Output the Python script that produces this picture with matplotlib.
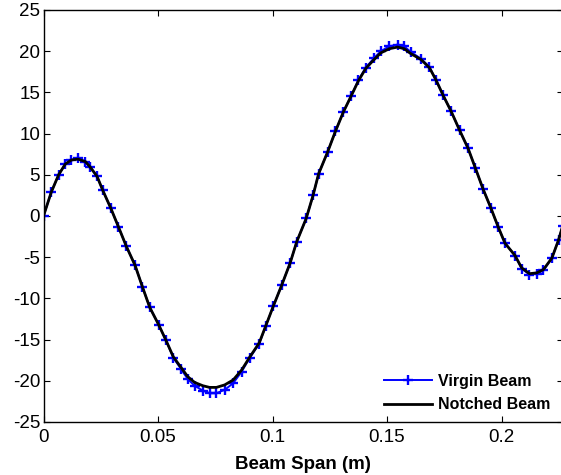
import matplotlib
matplotlib.use("Agg")
import matplotlib.pyplot as plt

plt.rcParams['font.family'] = ['Liberation Sans', 'DejaVu Sans']
plt.rcParams['axes.unicode_minus'] = False

span_x = [0.0000, 0.0034, 0.0066, 0.0095, 0.0122, 0.0151, 0.0183, 0.0205, 0.0234, 0.0259,
          0.0293, 0.0327, 0.0362, 0.0400, 0.0432, 0.0464, 0.0503, 0.0535, 0.0567, 0.0601,
          0.0630, 0.0660, 0.0696, 0.0725, 0.0755, 0.0791, 0.0828, 0.0865, 0.0901, 0.0942,
          0.0971, 0.1004, 0.1040, 0.1077, 0.1106, 0.1147, 0.1177, 0.1201, 0.1241, 0.1275,
          0.1309, 0.1344, 0.1375, 0.1407, 0.1444, 0.1473, 0.1510, 0.1546, 0.1575, 0.1604,
          0.1648, 0.1685, 0.1714, 0.1744, 0.1780, 0.1817, 0.1854, 0.1886, 0.1919, 0.1953,
          0.1985, 0.2015, 0.2059, 0.2088, 0.2122, 0.2154, 0.2183, 0.2220, 0.2249, 0.2267]

virgin_y = [0.0, 2.9, 5.0, 6.3, 6.8, 7.0, 6.6, 5.9, 4.8, 3.1,
            1.0, -1.3, -3.7, -6.0, -8.6, -11.1, -13.2, -15.1, -17.2, -18.6,
            -19.8, -20.6, -21.2, -21.5, -21.5, -21.1, -20.3, -18.9, -17.2, -15.5,
            -13.3, -10.9, -8.4, -5.7, -3.1, -0.3, 2.5, 5.1, 7.8, 10.3,
            12.6, 14.6, 16.5, 18.0, 19.2, 20.0, 20.6, 20.8, 20.6, 19.9,
            19.1, 18.1, 16.5, 14.7, 12.7, 10.4, 8.2, 5.8, 3.3, 1.0,
            -1.3, -3.3, -4.8, -6.4, -7.1, -7.0, -6.6, -5.1, -2.9, -1.2]

notched_y = [0.0, 2.9, 5.0, 6.3, 6.8, 6.9, 6.6, 5.9, 4.8, 3.1,
             1.0, -1.3, -3.7, -6.0, -8.6, -11.1, -13.2, -15.1, -17.1, -18.4,
             -19.5, -20.2, -20.6, -20.8, -20.8, -20.5, -19.9, -18.7, -17.1, -15.4,
             -13.3, -10.9, -8.4, -5.7, -3.1, -0.3, 2.5, 5.1, 7.8, 10.3,
             12.6, 14.6, 16.4, 17.9, 19.0, 19.8, 20.3, 20.5, 20.3, 19.7,
             19.0, 18.0, 16.5, 14.7, 12.7, 10.4, 8.2, 5.8, 3.3, 1.0,
             -1.3, -3.3, -4.8, -6.3, -7.0, -6.9, -6.5, -5.1, -2.9, -1.2]

x_ticks = [0, 0.05, 0.1, 0.15, 0.2]
x_tick_labels = ['0', '0.05', '0.1', '0.15', '0.2']
y_ticks = [-25, -20, -15, -10, -5, 0, 5, 10, 15, 20, 25]
y_tick_labels = ['-25', '-20', '-15', '-10', '-5', '0', '5', '10', '15', '20', '25']

fig = plt.figure(figsize=(5.61, 4.75), dpi=100)
ax = fig.add_axes([43.5 / 561, 53 / 475, (561 - 43.5) / 561 + 0.003, (422 - 10) / 475])

ax.plot(span_x, virgin_y, color='#0000ff', linewidth=1.4, marker='+',
        markersize=7.5, markeredgewidth=1.7, label='Virgin Beam', zorder=2)
ax.plot(span_x, notched_y, color='black', linewidth=2.0, label='Notched Beam', zorder=3)

ax.set_xlim(0, 0.2267)
ax.set_ylim(-25, 25)
ax.set_xticks(x_ticks)
ax.set_xticklabels(x_tick_labels)
ax.set_yticks(y_ticks)
ax.set_yticklabels(y_tick_labels)
ax.tick_params(direction='in', length=4, width=0.8, top=True, right=True,
               labelsize=13.5)
ax.tick_params(axis='x', pad=5)
ax.tick_params(axis='y', pad=2.5)
for s in ax.spines.values():
    s.set_linewidth(1.0)

ax.set_xlabel('Beam Span (m)', fontsize=13.5, fontweight='bold', labelpad=7)

leg = ax.legend(loc='lower right', frameon=False,
                prop={'weight': 'bold', 'size': 11.5}, handlelength=3.0,
                handletextpad=0.4, labelspacing=0.55, numpoints=1,
                borderaxespad=0.2, bbox_to_anchor=(0.995, 0.0))

fig.savefig('out.png', dpi=100)
